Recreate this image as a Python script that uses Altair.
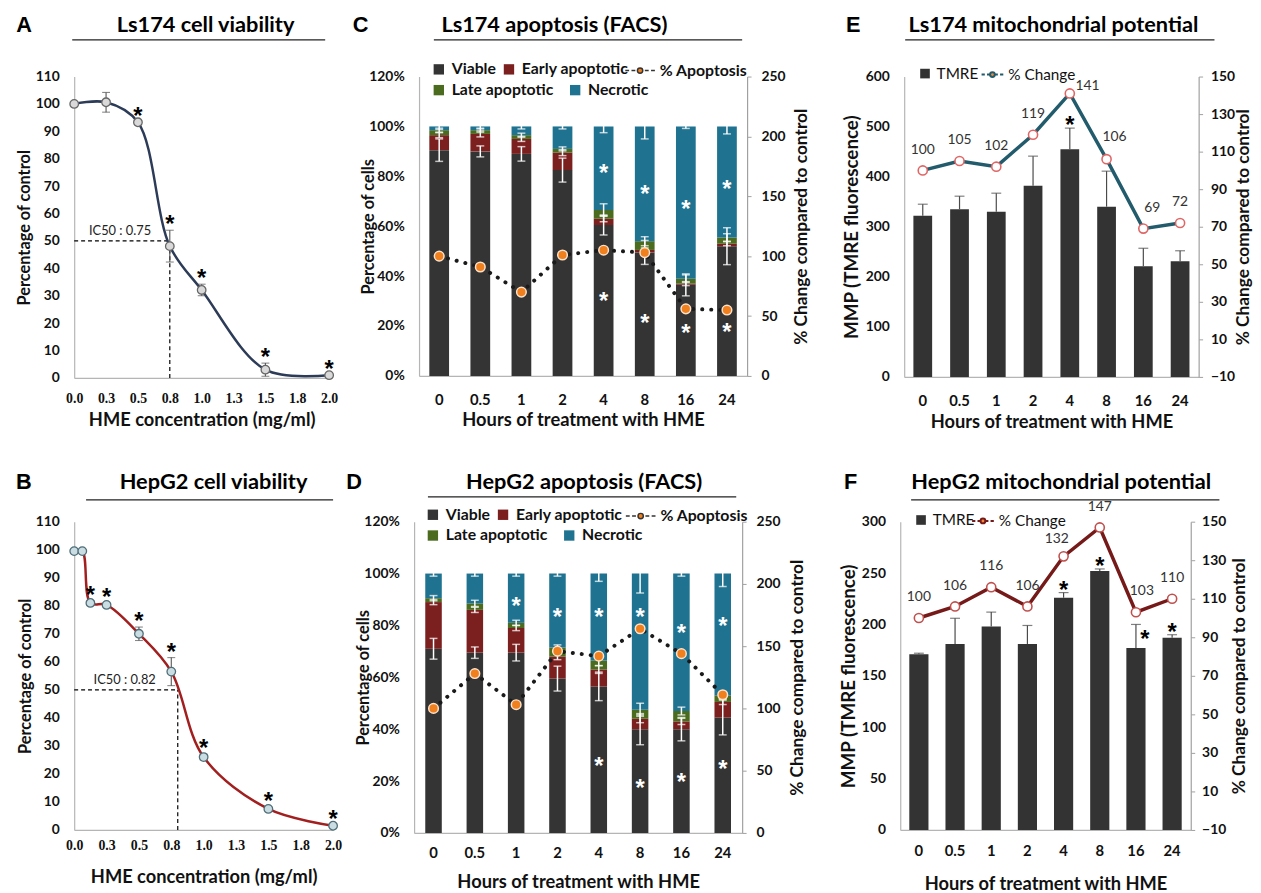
import altair as alt
import pandas as pd

# ---------------- values ----------------
x_ticks = [0.0, 0.25, 0.5, 0.75, 1.0, 1.25, 1.5, 1.75, 2.0]

a_conc = [0.0, 0.25, 0.5, 0.75, 1.0, 1.5, 2.0]
a_viab = [100.0, 100.6, 93.3, 48.1, 32.1, 3.0, 1.0]
a_err = [0.0, 3.6, 0.0, 5.8, 2.1, 2.4, 0.0]
a_sig = [0, 0, 1, 1, 1, 1, 1]
a_ic50 = 0.75
a_ic50_text = "IC50 : 0.75"

b_conc = [0.0, 0.0625, 0.125, 0.25, 0.5, 0.75, 1.0, 1.5, 2.0]
b_viab = [99.5, 99.5, 81.0, 80.3, 70.0, 56.5, 26.0, 7.5, 1.5]
b_err = [0.0, 0.0, 0.8, 0.6, 2.4, 5.0, 1.0, 0.6, 0.4]
b_sig = [0, 0, 1, 1, 1, 1, 1, 1, 1]
b_ic50 = 0.8
b_ic50_text = "IC50 : 0.82"

hours = ["0", "0.5", "1", "2", "4", "8", "16", "24"]
segments = ["Viable", "Early apoptotic", "Late apoptotic", "Necrotic"]

c_viable = [90.5, 90.0, 89.0, 82.5, 60.5, 49.5, 36.5, 52.0]
c_early = [6.0, 7.0, 6.0, 7.0, 2.5, 1.0, 0.5, 1.0]
c_late = [2.0, 1.5, 1.5, 1.5, 3.5, 3.5, 2.0, 2.5]
c_necrotic = [1.5, 1.5, 3.5, 9.0, 33.5, 46.0, 61.0, 44.5]
c_viable_err = [4.5, 2.2, 2.9, 4.8, 4.0, 4.8, 4.4, 7.4]
c_early_err = [1.0, 1.2, 1.0, 1.2, 1.2, 0.8, 0.8, 0.8]
c_late_err = [0.8, 0.8, 0.8, 0.8, 2.5, 1.8, 1.5, 1.5]
c_necrotic_err = [1.2, 1.0, 1.0, 1.0, 2.5, 5.0, 0.8, 3.0]
c_apoptosis = [100, 91, 70, 101, 105, 103, 56, 55]
# heights (% of cells) of the significance asterisks
c_star_viable = [None, None, None, None, 32.3, 23.5, 19.4, 20.1]
c_star_necrotic = [None, None, None, None, 83.7, 75.1, 69.3, 77.4]

d_viable = [71.0, 69.5, 69.5, 59.5, 56.5, 40.0, 40.0, 44.5]
d_early = [18.0, 16.5, 9.5, 8.5, 6.5, 4.0, 3.0, 6.0]
d_late = [1.5, 2.5, 2.0, 3.5, 3.5, 3.5, 4.0, 2.5]
d_necrotic = [9.5, 11.5, 19.0, 28.5, 33.5, 52.5, 53.0, 47.0]
d_viable_err = [4.0, 2.2, 3.2, 4.8, 5.5, 6.0, 4.5, 6.7]
d_early_err = [1.0, 1.0, 1.0, 1.2, 1.5, 1.5, 1.2, 1.0]
d_late_err = [1.0, 1.2, 1.0, 1.0, 2.0, 2.5, 1.5, 1.0]
d_necrotic_err = [1.0, 1.0, 1.0, 1.0, 3.0, 7.5, 1.0, 5.0]
d_apoptosis = [100, 128, 103, 146, 142, 164, 144, 111]
d_star_viable = [None, None, None, None, 28.0, 19.7, 22.0, 27.0]
d_star_necrotic = [None, None, 89.6, 85.5, 85.5, 85.5, 79.4, 82.0]

e_tmre = [322, 335, 330, 382, 455, 340, 221, 231]
e_err = [23, 26, 37, 59, 42, 71, 36, 21]
e_change = [100, 105, 102, 119, 141, 106, 69, 72]
e_sig = [0, 0, 0, 0, 1, 0, 0, 0]

f_tmre = [171, 181, 198, 181, 226, 252, 177, 187]
f_err = [1, 25, 14, 18, 5, 2, 23, 3]
f_change = [100, 106, 116, 106, 132, 147, 103, 110]
f_sig = [0, 0, 0, 0, 1, 1, 1, 1]

# ---------------- styling ----------------
FONT = "Lato"
LFONT = "Liberation Sans"
SEG_COLORS = ["#343434", "#7b1f1f", "#4b6b1f", "#1f7391"]
PATH_DOT = ("M-1,0H-0.74M-0.58,0H-0.32M0.32,0H0.58M0.74,0H1"
            "M0.18,0A0.18,0.18,0,1,1,-0.18,0A0.18,0.18,0,1,1,0.18,0Z")
PATH_DOT2 = ("M-1,0H-0.7M-0.5,0H-0.28M0.28,0H0.5M0.7,0H1"
             "M0.22,0A0.22,0.22,0,1,1,-0.22,0A0.22,0.22,0,1,1,0.22,0Z")


def decorations(letter, title, lx, ly, tx, ty, ux1, ux2, uy):
    d = pd.DataFrame({"letter": [letter], "title": [title]})
    base = alt.Chart(d)
    L = base.mark_text(font=LFONT, fontSize=22, fontWeight="bold", align="left",
                       baseline="middle", color="black").encode(
        text="letter:N", x=alt.value(lx), y=alt.value(ly))
    T = base.mark_text(font=FONT, fontSize=22, fontWeight="bold", align="center",
                       baseline="middle", color="black").encode(
        text="title:N", x=alt.value(tx), y=alt.value(ty))
    U = base.mark_rule(color="#222222", strokeWidth=1.3).encode(
        x=alt.value(ux1), x2=alt.value(ux2), y=alt.value(uy))
    return [L, T, U]


def viability_panel(conc, viab, err, sig, ic50, ic50_text, ic50_pos, color,
                    pfill, pstroke, w, h, deco, lab_pad, tit_pad, ytx):
    df = pd.DataFrame({"c": conc, "v": viab, "e": err, "sig": sig})
    df["lo"] = df["v"] - df["e"]
    df["hi"] = df["v"] + df["e"]
    xs = alt.Scale(domain=[0, 2], nice=False, zero=False)
    ys = alt.Scale(domain=[0, 110], nice=False)
    xax = alt.Axis(title="HME concentration (mg/ml)", values=x_ticks, format=".1f",
                   labelFont="Liberation Serif", labelFontSize=14, labelPadding=lab_pad,
                   titlePadding=tit_pad, labelFlush=False, labelOverlap=False)
    yax = alt.Axis(title="Percentage of control", values=list(range(0, 111, 10)),
                   labelFontSize=14, labelPadding=15, titleFontSize=16.5, titleX=ytx)
    X = alt.X("c:Q", scale=xs, axis=xax)

    def Y(f):
        return alt.Y(f, scale=ys, axis=yax)

    base = alt.Chart(df)
    ic = pd.DataFrame({"x": [0, ic50], "x2": [ic50, ic50], "y": [50, 0], "y2": [50, 50]})
    guide = alt.Chart(ic).mark_rule(color="black", strokeDash=[4, 3], strokeWidth=1.2).encode(
        x=alt.X("x:Q", scale=xs, axis=xax), x2="x2:Q", y=Y("y:Q"), y2="y2:Q")
    icl = pd.DataFrame({"x": [ic50_pos[0]], "y": [ic50_pos[1]], "t": [ic50_text]})
    ic_lab = alt.Chart(icl).mark_text(font=FONT, fontSize=13, color="#222222").encode(
        x=alt.X("x:Q", scale=xs, axis=xax), y=Y("y:Q"), text="t:N")
    line = base.mark_line(interpolate="catmull-rom", color=color, strokeWidth=2.5).encode(
        x=X, y=Y("v:Q"))
    ef = base.transform_filter("datum.e > 0")
    ebar = ef.mark_rule(color="#555555", strokeWidth=1.1).encode(x=X, y=Y("lo:Q"), y2="hi:Q")
    cap_hi = ef.mark_tick(orient="horizontal", size=8, thickness=1.1, color="#555555").encode(
        x=X, y=Y("hi:Q"))
    cap_lo = ef.mark_tick(orient="horizontal", size=8, thickness=1.1, color="#555555").encode(
        x=X, y=Y("lo:Q"))
    pts = base.mark_circle(size=75, color=pfill, stroke=pstroke, strokeWidth=1.3,
                           opacity=1).encode(x=X, y=Y("v:Q"))
    stars = base.transform_filter("datum.sig == 1").mark_text(
        text="*", font=LFONT, fontSize=24, fontWeight="bold", color="black",
        baseline="alphabetic", dy=2).encode(x=X, y=Y("hi:Q"))
    layers = [guide, line, ebar, cap_hi, cap_lo, pts, stars, ic_lab] + decorations(*deco)
    return alt.layer(*layers).properties(width=w, height=h)


def line_legend(df, X, Y, field, label, stroke, fill, path, size, lx, ly, weight, sw, fs):
    return alt.Chart(df).transform_filter("false").mark_line(strokeWidth=sw).encode(
        x=X, y=Y,
        stroke=alt.Stroke(field, scale=alt.Scale(domain=[label], range=[stroke]),
                          legend=alt.Legend(title=None, orient="none", legendX=lx,
                                            legendY=ly, symbolType=path, symbolSize=size,
                                            symbolFillColor=fill, symbolStrokeWidth=sw,
                                            labelOffset=4, labelFontSize=fs,
                                            labelFontWeight=weight, padding=0)))


def seg_legend(lx, ly, cpad, vals=None):
    kw = {} if vals is None else {"values": vals}
    return alt.Legend(title=None, orient="none", legendX=lx, legendY=ly,
                      direction="horizontal", columnPadding=cpad, labelOffset=5,
                      symbolType="square", symbolSize=110, symbolStrokeWidth=0,
                      labelFontSize=16, labelFontWeight="bold", padding=0, **kw)


def facs_panel(vals, errs, apop, star_v, star_n, w, h, pi, po, deco, leg1, leg2,
               lab_pad, tit_pad, rlab_pad, rtit_pad, ytx):
    rows = []
    for i, hr in enumerate(hours):
        cum = 0.0
        for k, s in enumerate(segments):
            v = vals[k][i]
            e = errs[k][i]
            rows.append({"h": hr, "seg": s, "seg2": s, "y0": cum, "y1": cum + v,
                         "lo": cum + v - e, "hi": cum + v + e})
            cum += v
    sdf = pd.DataFrame(rows)
    srows = []
    for i, hr in enumerate(hours):
        for arr in (star_v, star_n):
            if arr[i] is not None:
                srows.append({"h": hr, "s": arr[i]})
    stdf = pd.DataFrame(srows)
    adf = pd.DataFrame({"h": hours, "a": apop, "lab": ["% Apoptosis"] * len(hours)})

    X = alt.X("h:N", scale=alt.Scale(domain=hours, paddingInner=pi, paddingOuter=po),
              axis=alt.Axis(title="Hours of treatment with HME", labelAngle=0,
                            labelPadding=lab_pad, titlePadding=tit_pad))
    ysl = alt.Scale(domain=[0, 120], nice=False)
    yaxl = alt.Axis(title="Percentage of cells", values=list(range(0, 121, 20)),
                    labelExpr="datum.value + '%'", labelFontSize=14, labelPadding=15,
                    titleFontSize=16.5, titleX=ytx)
    ysr = alt.Scale(domain=[0, 250], nice=False)
    yaxr = alt.Axis(orient="right", title="% Change compared to control",
                    values=list(range(0, 251, 50)), ticks=True, tickSize=4,
                    tickColor="#a0a0a0", domainColor="#a0a0a0", labelFontSize=14,
                    labelPadding=rlab_pad, titlePadding=rtit_pad, titleFontSize=17.5,
                    titleAngle=270, titleBaseline="top")

    def YL(f):
        return alt.Y(f, scale=ysl, axis=yaxl)

    def YR(f):
        return alt.Y(f, scale=ysr, axis=yaxr)

    bars = alt.Chart(sdf).mark_bar().encode(
        x=X, y=YL("y1:Q"), y2="y0:Q",
        color=alt.Color("seg:N", scale=alt.Scale(domain=segments, range=SEG_COLORS),
                        legend=seg_legend(leg1[0], leg1[1], 5, segments[:2])))
    # second legend row (Late apoptotic / Necrotic)
    bars2 = alt.Chart(sdf).transform_filter("false").mark_bar().encode(
        x=X, y=YL("y1:Q"), y2="y0:Q",
        fill=alt.Fill("seg2:N", scale=alt.Scale(domain=segments[2:], range=SEG_COLORS[2:]),
                      legend=seg_legend(leg1[0], leg1[2], 14)))
    eb = alt.Chart(sdf)
    erule = eb.mark_rule(color="white", strokeWidth=1.5).encode(x=X, y=YL("lo:Q"), y2="hi:Q")
    ecap1 = eb.mark_tick(size=8, thickness=1.5, color="white").encode(x=X, y=YL("lo:Q"))
    ecap2 = eb.mark_tick(size=8, thickness=1.5, color="white").encode(x=X, y=YL("hi:Q"))
    stars = alt.Chart(stdf).mark_text(
        text="*", font=LFONT, fontSize=24, fontWeight="bold", color="white",
        baseline="alphabetic", dy=14).encode(x=X, y=YL("s:Q"))
    left = alt.layer(bars, bars2, erule, ecap1, ecap2, stars)

    dline = alt.Chart(adf).mark_line(strokeWidth=4, strokeDash=[0.1, 9], strokeCap="round",
                                     color="#1a1a1a").encode(x=X, y=YR("a:Q"))
    leg = line_legend(adf, X, YR("a:Q"), "lab:N", "% Apoptosis", "#333333", "#f07f1e",
                      PATH_DOT, 900, leg2[0], leg2[1], "bold", 1.5, 16)
    dots = alt.Chart(adf).mark_circle(size=95, color="#f07f1e", stroke="#fde3cc",
                                      strokeWidth=1.5, opacity=1).encode(x=X, y=YR("a:Q"))
    right = alt.layer(dline, leg, dots)
    return alt.layer(left, right, *decorations(*deco)).resolve_scale(
        y="independent").properties(width=w, height=h)


def mmp_panel(tmre, err, change, sig, w, h, pi, po, line_color, pt_stroke, ymax, ystep,
              ytitle, deco, leg1, leg2, lab_pad, tit_pad, rlab_pad, rtit_pad,
              label_shift, star_side, ytx):
    df = pd.DataFrame({"h": hours, "v": tmre, "e": err, "c": change, "sig": sig,
                       "lab": ["TMRE"] * len(hours), "lab2": ["% Change"] * len(hours)})
    df["hi"] = df["v"] + df["e"]
    X = alt.X("h:N", scale=alt.Scale(domain=hours, paddingInner=pi, paddingOuter=po),
              axis=alt.Axis(title="Hours of treatment with HME", labelAngle=0,
                            labelPadding=lab_pad, titlePadding=tit_pad))
    ysl = alt.Scale(domain=[0, ymax], nice=False)
    yaxl = alt.Axis(title=ytitle, values=list(range(0, ymax + 1, ystep)),
                    labelFontSize=14, labelPadding=15, titleFontSize=19, titleX=ytx)
    ysr = alt.Scale(domain=[-10, 150], nice=False)
    yaxr = alt.Axis(orient="right", title="% Change compared to control",
                    values=list(range(-10, 151, 20)), ticks=True, tickSize=4,
                    tickColor="#a0a0a0", domainColor="#a0a0a0", labelFontSize=14,
                    labelPadding=rlab_pad, titlePadding=rtit_pad, titleFontSize=17.5,
                    titleAngle=270, titleBaseline="top")

    def YL(f):
        return alt.Y(f, scale=ysl, axis=yaxl)

    def YR(f):
        return alt.Y(f, scale=ysr, axis=yaxr)

    base = alt.Chart(df)
    bars = base.mark_bar().encode(
        x=X, y=YL("v:Q"),
        color=alt.Color("lab:N", scale=alt.Scale(domain=["TMRE"], range=["#333333"]),
                        legend=alt.Legend(title=None, orient="none", legendX=leg1[0],
                                          legendY=leg1[1], symbolType="square",
                                          symbolSize=95, symbolStrokeWidth=0,
                                          labelFontSize=15.5, labelFontWeight="normal",
                                          padding=0)))
    erule = base.mark_rule(color="#4a4a4a", strokeWidth=1.2).encode(x=X, y=YL("v:Q"), y2="hi:Q")
    ecap = base.mark_tick(size=10, thickness=1.2, color="#4a4a4a").encode(x=X, y=YL("hi:Q"))
    side_keys = list(star_side.keys())
    sflt = "datum.sig == 1" + "".join([f" && datum.h != '{k}'" for k in side_keys])
    stars = [base.transform_filter(sflt).mark_text(
        text="*", font=LFONT, fontSize=24, fontWeight="bold", color="black",
        baseline="alphabetic", dy=5).encode(x=X, y=YL("hi:Q"))]
    for k, (dx, dy) in star_side.items():
        stars.append(base.transform_filter(f"datum.h == '{k}'").mark_text(
            text="*", font=LFONT, fontSize=24, fontWeight="bold", color="black",
            baseline="alphabetic", dx=dx, dy=dy).encode(x=X, y=YL("v:Q")))
    left = alt.layer(bars, erule, ecap, *stars)

    line = base.mark_line(strokeWidth=3.5, color=line_color).encode(x=X, y=YR("c:Q"))
    leg = line_legend(df, X, YR("c:Q"), "lab2:N", "% Change", line_color, "#f08a3a",
                      PATH_DOT2, 484, leg2[0], leg2[1], "normal", 2, 15.5)
    pts = base.mark_circle(size=85, color="white", stroke=pt_stroke, strokeWidth=1.6,
                           opacity=1).encode(x=X, y=YR("c:Q"))
    keys = list(label_shift.keys())
    lflt = " && ".join([f"datum.h != '{k}'" for k in keys]) if keys else "true"
    labs = [base.transform_filter(lflt).mark_text(
        font=FONT, fontSize=14, color="#333333", baseline="middle", dy=-21).encode(
        x=X, y=YR("c:Q"), text="c:Q")]
    for k, (dx, dy) in label_shift.items():
        labs.append(base.transform_filter(f"datum.h == '{k}'").mark_text(
            font=FONT, fontSize=14, color="#333333", baseline="middle", dx=dx, dy=dy).encode(
            x=X, y=YR("c:Q"), text="c:Q"))
    right = alt.layer(line, leg, pts, *labs)
    return alt.layer(left, right, *decorations(*deco)).resolve_scale(
        y="independent").properties(width=w, height=h)


A = viability_panel(a_conc, a_viab, a_err, a_sig, a_ic50, a_ic50_text, (0.36, 53.5),
                    "#2c3b57", "#d9d9d9", "#666666", 258, 305,
                    ("A", "Ls174 cell viability", -58.7, -52.5, 133, -52.5, -2, 254, -37),
                    14, 5, -42.7)
B = viability_panel(b_conc, b_viab, b_err, b_sig, b_ic50, b_ic50_text, (0.39, 53.6),
                    "#a21f1f", "#c9dde3", "#4f6e78", 262, 312,
                    ("B", "HepG2 cell viability", -59, -40, 141, -40, 12, 262, -22),
                    8.5, 15.5, -41)
C = facs_panel([c_viable, c_early, c_late, c_necrotic],
               [c_viable_err, c_early_err, c_late_err, c_necrotic_err],
               c_apoptosis, c_star_viable, c_star_necrotic, 332, 303, 0.52, 0.25,
               ("C", "Ls174 apoptosis (FACS)", -67, -52.5, 137, -52.5, 15, 327, -37),
               (12, -15.25, 5.75), (207.7, -22), 16.5, 3.5, 10, 8, -43)
D = facs_panel([d_viable, d_early, d_late, d_necrotic],
               [d_viable_err, d_early_err, d_late_err, d_necrotic_err],
               d_apoptosis, d_star_viable, d_star_necrotic, 332, 315, 0.6, 0.27,
               ("D", "HepG2 apoptosis (FACS)", -68.7, -40, 172, -40, 14, 326, -25),
               (11, -15, 6), (213.3, -21.7), 12.5, 12.5, 10, 9, -43)
E = mmp_panel(e_tmre, e_err, e_change, e_sig, 298, 304, 0.49, 0.25, "#215b6c", "#e06666",
              600, 100, "MMP  (TMRE fluorescence)",
              ("E", "Ls174 mitochondrial potential", -59, -52.5, 151, -52.5, 1, 314, -37),
              (13.3, -10.75), (77.3, -14), 16.5, 4.5, 8, 0,
              {"4": (18, -7), "8": (8, -22), "16": (9, -21)}, {}, -43.7)
F = mmp_panel(f_tmre, f_err, f_change, f_sig, 294, 312, 0.47, 0.25, "#751919", "#c0504d",
              300, 50, "MMP (TMRE fluorescence)",
              ("F", "HepG2 mitochondrial potential", -57, -40, 163, -40, 11, 323, -22),
              (13.3, -9.45), (71.7, -12.7), 13.5, 16.5, 7, 5,
              {"4": (-7, -18), "16": (6, -21)}, {"16": (9, -1)}, -42)


def res(c):
    return c.resolve_scale(color="independent", stroke="independent",
                           fill="independent").resolve_legend(
        color="independent", stroke="independent", fill="independent")


row1 = res(alt.hconcat(res(alt.hconcat(A, C, spacing=13)), E, spacing=30))
row2 = res(alt.hconcat(res(alt.hconcat(B, D, spacing=2)), F, spacing=32))
chart = res(alt.vconcat(row1, row2, spacing=39.5)).properties(
    padding={"left": 7, "top": 0, "right": 0, "bottom": 0}
).configure(font=FONT).configure_view(stroke="transparent").configure_axis(
    grid=False, ticks=False, tickSize=0, domainColor="#b5b5b5", domainWidth=1.2,
    labelFont=FONT, labelFontWeight="bold", labelFontSize=15, labelColor="#111111",
    titleFont=FONT, titleFontWeight="bold", titleFontSize=18.5, titleColor="#111111"
).configure_legend(labelFont=FONT, labelColor="#111111")

chart.save("out.html", embed_options={"renderer": "svg", "actions": False})
